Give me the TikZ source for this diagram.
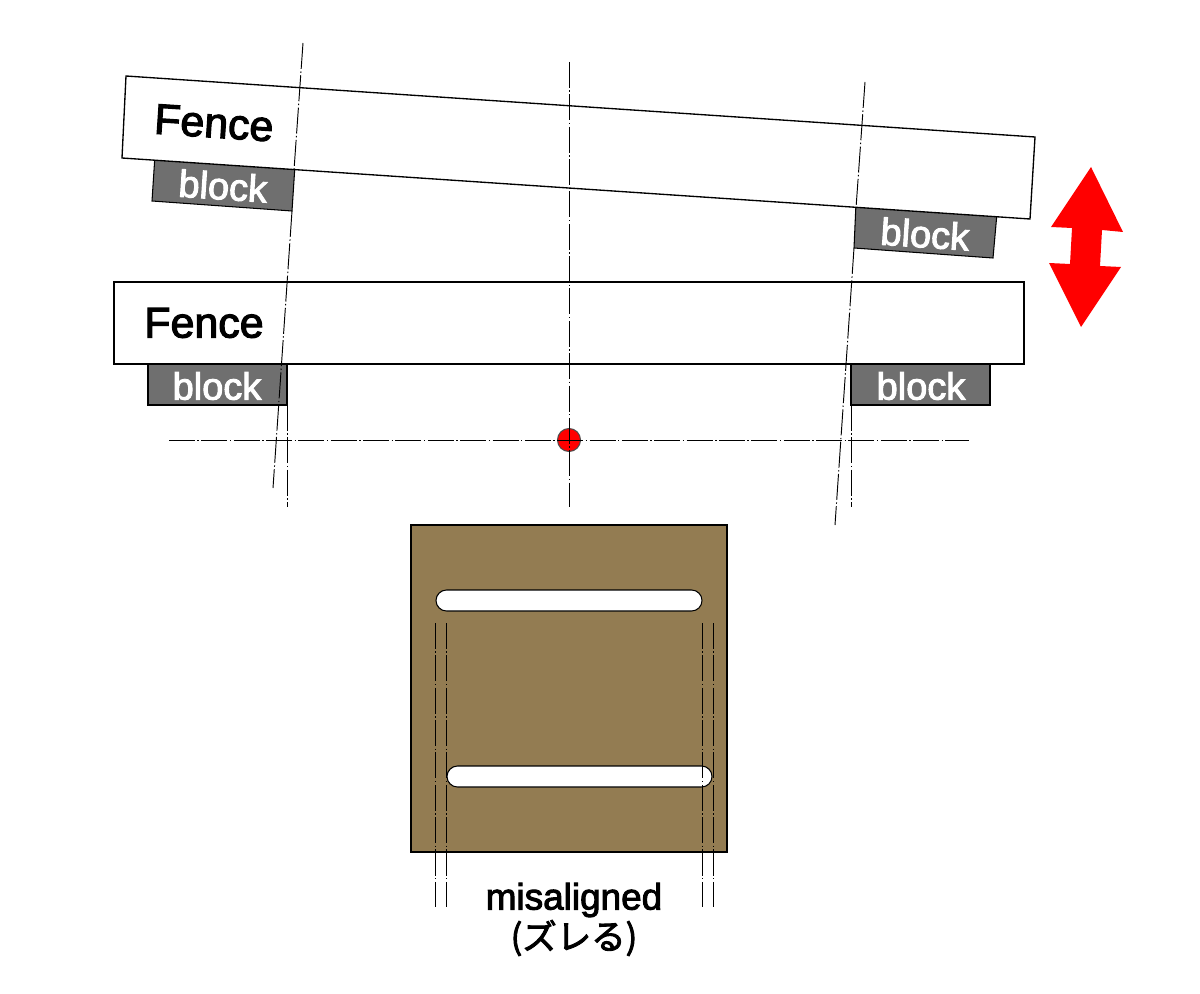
\documentclass[tikz,border=0pt]{standalone}
\usepackage{fontspec}
\setmainfont{Liberation Sans}
\newfontfamily\labelfont[FakeBold=2.6]{Liberation Sans}
\newfontfamily\cjkfont[FakeBold=2.6]{Noto Sans CJK JP}
\definecolor{plate}{HTML}{937C52}
\definecolor{blockgray}{HTML}{6F6F6F}
\tikzstyle{outline}=[draw=black, line width=0.3pt]
\tikzstyle{fence}=[outline, fill=white]
\tikzstyle{tiltfence}=[fence, line width=0.38pt]
\tikzstyle{blockbox}=[outline, fill=blockgray]
\tikzstyle{slot}=[outline, fill=white, rounded corners=0.105cm]
\tikzstyle{centerline}=[draw=black, line width=0.27pt, dash pattern=on 7.4pt off 0.7pt on 0.4pt off 0.7pt]
\tikzstyle{fencelabel}=[font=\labelfont\fontsize{12.2}{14}\selectfont, text=black, inner sep=0pt]
\tikzstyle{blocklabel}=[font=\labelfont\fontsize{10.8}{13}\selectfont, text=white, inner sep=0pt]
\tikzstyle{note}=[font=\labelfont\fontsize{10.5}{13}\selectfont, text=black, inner sep=0pt]
\tikzstyle{pivot}=[circle, fill=red, draw=black!70, line width=0.3pt, minimum size=0.23cm, inner sep=0pt]

\begin{document}
\begin{tikzpicture}[x=0.01cm, y=-0.01cm]
		   \useasboundingbox (0, 0) rectangle (1200, 994);
		   \begin{scope}
			   % blocks of the tilted fence go under it
			   \draw [blockbox] (155, 155) -- (295, 165) -- (292, 211) -- (152, 201) -- cycle;
			   \draw [blockbox] (856, 203) -- (997, 213) -- (993, 258) -- (854, 248) -- cycle;
			   \draw [tiltfence] (126, 76) -- (1035, 137) -- (1030, 219) -- (122, 158) -- cycle;
			   \draw [fence] (114, 282) rectangle (1024, 364);
			   \draw [blockbox] (148, 364) rectangle (287, 405);
			   \draw [blockbox] (851, 364) rectangle (990, 405);
		   \end{scope}
		   \begin{scope}
			   \node (pivot) at (569, 440)[pivot] {};
			   \path [centerline] (303, 43) -- (294, 170);
			   \path [centerline] (292, 211) -- (273, 488);
			   \path [centerline] (865, 82) -- (856, 208);
			   \path [centerline] (854, 248) -- (835, 525);
			   \path [centerline] (569, 62) -- (569, 507);
			   \path [centerline] (169, 440) -- (969, 440);
			   \path [centerline] (287, 405) -- (287, 507);
			   \path [centerline] (851, 405) -- (851, 507);
		   \end{scope}
		   \begin{scope}
			   \node (fencetop) at (214, 123)[fencelabel, rotate=-3.84] {Fence};
			   \node (fencelevel) at (204, 323)[fencelabel] {Fence};
			   \node (blocka) at (223, 186)[blocklabel, rotate=-3.84] {block};
			   \node (blockb) at (925, 234)[blocklabel, rotate=-3.84] {block};
			   \node (blockc) at (217, 386)[blocklabel] {block};
			   \node (blockd) at (921, 386)[blocklabel] {block};
		   \end{scope}
		   % red double arrow
		   \fill [red] (1091, 167) -- (1123, 232) -- (1102, 230) -- (1100, 266) -- (1121, 267) -- (1081, 327)
			   -- (1049, 263) -- (1070, 264) -- (1072, 228) -- (1051, 227) -- cycle;
		   \begin{scope}
			   \draw [outline, fill=plate] (411, 525) rectangle (727, 852);
			   \draw [slot] (436, 590) rectangle (702, 611);
			   \draw [slot] (447, 766) rectangle (712, 787);
			   \path [centerline] (435, 623) -- (435, 907);
			   \path [centerline] (446, 623) -- (446, 907);
			   \path [centerline] (702, 623) -- (702, 907);
			   \path [centerline] (713, 623) -- (713, 907);
			   \node (misaligned) at (574, 900)[note] {misaligned};
			   \node (zure) at (574, 938)[note, font=\cjkfont\fontsize{9.8}{13}\selectfont] {(ズレる)};
		   \end{scope}
	   \end{tikzpicture}
\end{document}
